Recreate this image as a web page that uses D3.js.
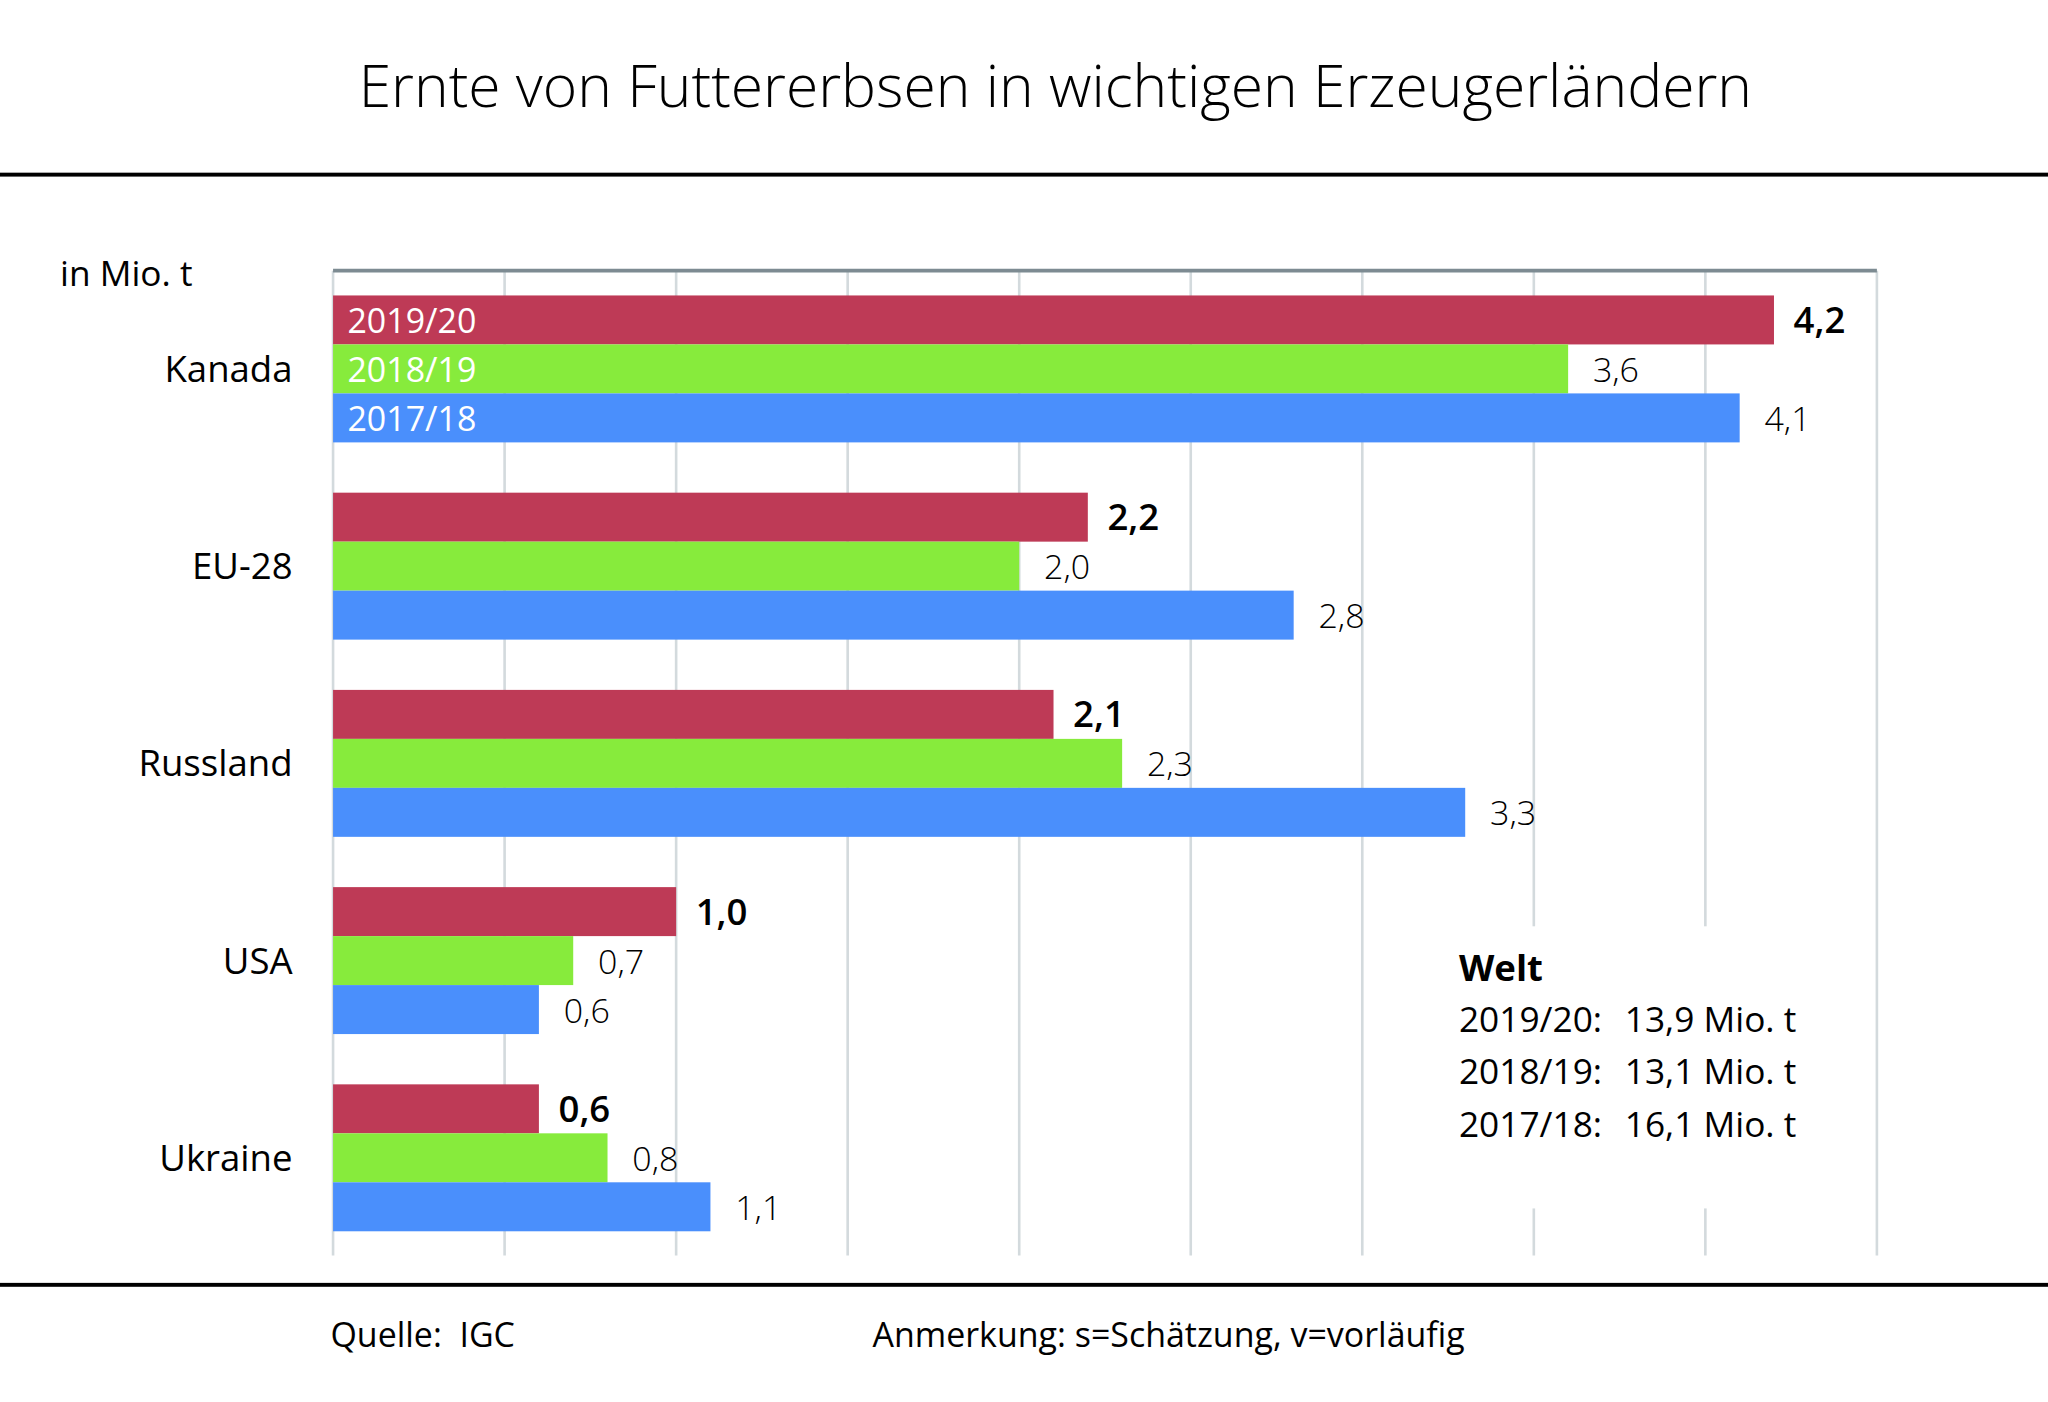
<!DOCTYPE html>
<html><head><meta charset="utf-8">
<script src="https://cdn.jsdelivr.net/npm/d3@7"></script>
<style>body{margin:0;background:#fff}svg{display:block;font-family:"Open Sans",sans-serif}</style>
</head><body><div id="chart"></div>
<script>
const countries = ["Kanada", "EU-28", "Russland", "USA", "Ukraine"]
const seasons = ["2019/20", "2018/19", "2017/18"]
const v2019 = [4.2, 2.2, 2.1, 1.0, 0.6]
const v2018 = [3.6, 2.0, 2.3, 0.7, 0.8]
const v2017 = [4.1, 2.8, 3.3, 0.6, 1.1]
const colors = ["#be3a56", "#87eb3c", "#4a8ffc"]
const worldLabels = ["2019/20:", "2018/19:", "2017/18:"]
const worldValues = ["13,9 Mio. t", "13,1 Mio. t", "16,1 Mio. t"]

const series = [v2019, v2018, v2017]
const fmt = d => d3.format(".1f")(d).replace(".", ",")

const svg = d3.select("#chart").append("svg")
    .attr("width", 2048).attr("height", 1402)
    .attr("viewBox", "0 0 1568 1073")

const x = d3.scaleLinear().domain([0, 4.5]).range([255, 1437])
const y = d3.scaleBand().domain(countries).range([226, 981]).paddingInner(0)
const barH = 37.5

svg.append("text").text("Ernte von Futtererbsen in wichtigen Erzeugerländern")
    .attr("x", 808).attr("y", 82).attr("text-anchor", "middle")
    .style("font-size", "45px").style("font-weight", 300)
svg.append("rect").attr("x", 0).attr("y", 132).attr("width", 1568).attr("height", 3).attr("fill", "#000")
svg.append("rect").attr("x", 0).attr("y", 982).attr("width", 1568).attr("height", 3).attr("fill", "#000")

// grid
svg.append("g").selectAll("line").data(d3.range(0, 4.51, 0.5)).enter().append("line")
    .attr("x1", d => x(d)).attr("x2", d => x(d))
    .attr("y1", 207).attr("y2", 961)
    .attr("stroke", "#d3dadd").attr("stroke-width", 2)
svg.append("line").attr("x1", 255).attr("x2", 1437).attr("y1", 207).attr("y2", 207)
    .attr("stroke", "#7d8b92").attr("stroke-width", 3)

svg.append("text").text("in Mio. t").attr("x", 46).attr("y", 219).style("font-size", "27px")

const groups = svg.append("g").selectAll("g").data(countries).enter().append("g")
    .attr("transform", d => "translate(0," + y(d) + ")")

groups.append("text").text(d => d)
    .attr("x", 224).attr("y", barH * 1.5 + 10).attr("text-anchor", "end")
    .style("font-size", "28px")

series.forEach((vals, s) => {
    groups.append("rect")
        .attr("x", x(0)).attr("y", s * barH)
        .attr("width", (d, i) => x(vals[i]) - x(0)).attr("height", barH)
        .attr("fill", colors[s])
    groups.append("text").text((d, i) => fmt(vals[i]))
        .attr("x", (d, i) => x(vals[i]) + (s === 0 ? 15 : 19))
        .attr("y", s * barH + barH / 2 + 10)
        .style("font-size", s === 0 ? "28px" : "26px")
        .style("font-weight", s === 0 ? 600 : 300)
})

// season labels inside the Kanada bars
svg.append("g").selectAll("text").data(seasons).enter().append("text")
    .text(d => d)
    .attr("x", 266).attr("y", (d, i) => y(countries[0]) + i * barH + barH / 2 + 10)
    .attr("fill", "#fff").style("font-size", "26px")

// world box
svg.append("rect").attr("x", 1105).attr("y", 709).attr("width", 300).attr("height", 216).attr("fill", "#fff")
svg.append("text").text("Welt").attr("x", 1117).attr("y", 751)
    .style("font-size", "28px").style("font-weight", 700)
worldLabels.forEach((l, i) => {
    svg.append("text").text(l).attr("x", 1117).attr("y", 790 + i * 40).style("font-size", "27px")
    svg.append("text").text(worldValues[i]).attr("x", 1244).attr("y", 790 + i * 40).style("font-size", "27px")
})

svg.append("text").text("Quelle:  IGC").attr("x", 253).attr("y", 1031).style("font-size", "26px").attr("xml:space", "preserve")
svg.append("text").text("Anmerkung: s=Schätzung, v=vorläufig").attr("x", 668).attr("y", 1031).style("font-size", "26px")
</script></body></html>
